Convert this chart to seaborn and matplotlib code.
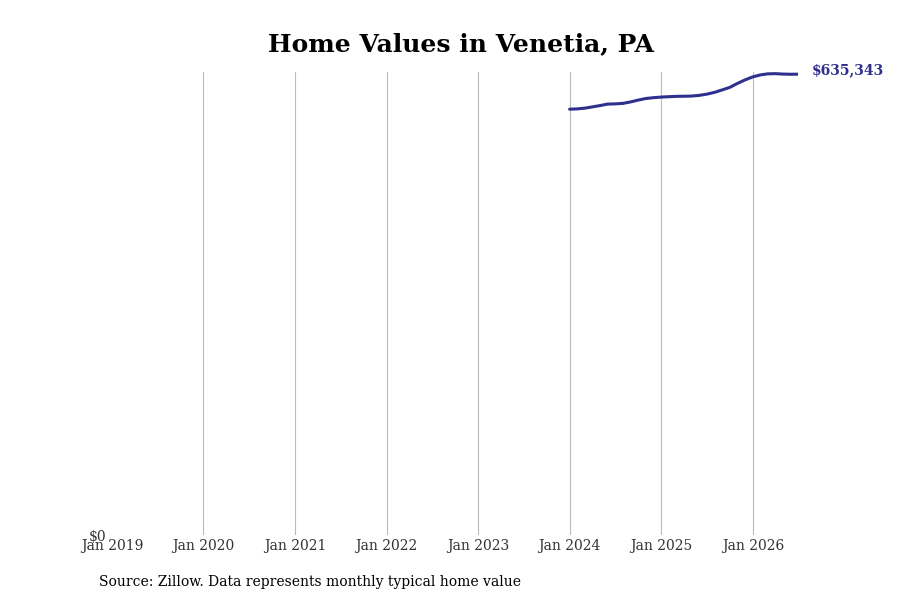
import pandas as pd
import numpy as np
import matplotlib
matplotlib.use("Agg")
import matplotlib.pyplot as plt
import seaborn as sns

# monthly typical home value, Jan 2024 - Jul 2026
months = pd.date_range("2024-01-01", "2026-07-01", freq="MS")
values = [587083, 587497, 588462, 590255, 592047, 594116, 594392, 595082,
          597150, 599633, 601839, 602943, 603770, 604322, 604736, 604900,
          605150, 606115, 607770, 610252, 613700, 617147, 622663, 627490,
          631627, 634386, 635765, 636041, 635490, 635214, 635343]
tick_years = list(range(2019, 2027))

df = pd.DataFrame({"date": months, "value": values})

sns.set_style("white")
plt.rcParams['font.family'] = ['DejaVu Serif']

fig = plt.figure(figsize=(9, 6), dpi=100)
ax = fig.add_axes([0.1244, 0.1083, 0.7625, 0.772])

line_color = '#2f2f8f'
sns.lineplot(data=df, x="date", y="value", ax=ax, color=line_color, linewidth=2.2)

# 终点标注
last = df.iloc[-1]
ax.annotate(f"${last['value']:,.0f}", xy=(last['date'], last['value']),
            xytext=(10, 3), textcoords='offset points', color=line_color,
            fontsize=10, fontweight='bold', va='center', ha='left',
            annotation_clip=False)

ticks = [pd.Timestamp(f"{y}-01-01") for y in tick_years]
ax.set_xticks(ticks)
ax.set_xticklabels([f"Jan {y}" for y in tick_years], fontsize=10, color='#333333')
ax.set_xlim(ticks[0], months[-1])
ax.set_ylim(0, max(values) * 1.004)
ax.set_yticks([0])
ax.set_yticklabels(["$0"], fontsize=10, color='#333333')
ax.tick_params(axis='y', length=0, pad=4)
ax.tick_params(axis='x', length=0, pad=3)

ax.grid(axis='x', color='#bbbbbb', linewidth=0.8)
ax.grid(axis='y', visible=False)
ax.xaxis.get_gridlines()[0].set_visible(False)
sns.despine(ax=ax, left=True, bottom=True)
ax.set_xlabel("")
ax.set_ylabel("")

fig.text(0.512, 0.926, "Home Values in Venetia, PA", fontsize=18, fontweight='bold',
         ha='center', va='center', color='black')
fig.text(0.11, 0.018, "Source: Zillow. Data represents monthly typical home value",
         fontsize=10, ha='left', va='bottom', color='black')

plt.savefig("out.png", dpi=100)
plt.close()
